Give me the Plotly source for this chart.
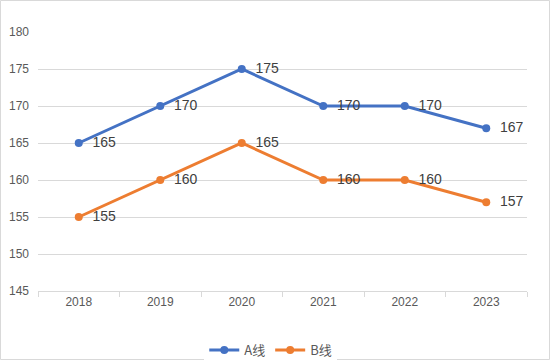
import plotly.graph_objects as go

years = ["2018", "2019", "2020", "2021", "2022", "2023"]
a_vals = [165, 170, 175, 170, 170, 167]
b_vals = [155, 160, 165, 160, 160, 157]
y_ticks = [145, 150, 155, 160, 165, 170, 175, 180]

W, H = 550, 360
ml, mr, mt, mb = 38, 23, 32, 69
pw, ph = W - ml - mr, H - mt - mb

fig = go.Figure()
for name, vals, color in [("A线", a_vals, "#4472C4"), ("B线", b_vals, "#ED7D31")]:
    fig.add_trace(go.Scatter(
        x=years, y=vals, name=name, mode="lines+markers+text",
        line=dict(color=color, width=3),
        marker=dict(color=color, size=8),
        text=["  " + str(v) for v in vals], textposition="middle right",
        textfont=dict(family="Liberation Sans, Arial", size=14, color="#404040"),
        cliponaxis=False,
    ))

fig.update_layout(
    width=W, height=H,
    margin=dict(l=ml, r=mr, t=mt, b=mb, autoexpand=False),
    paper_bgcolor="white", plot_bgcolor="white",
    showlegend=True,
    legend=dict(orientation="h", x=0.476, xanchor="center", y=-0.17, yanchor="top",
                font=dict(family="Noto Sans CJK SC", size=13, color="#595959"),
                tracegroupgap=0),
    xaxis=dict(type="category", range=[-0.5, len(years) - 0.5], showgrid=False,
               showline=True, linecolor="#d9d9d9",
               linewidth=1, ticks="outside", tickson="boundaries", ticklen=5,
               tickcolor="#d9d9d9", tickfont=dict(family="Liberation Sans, Arial", size=12, color="#595959"),
               zeroline=False, fixedrange=True, automargin=False),
    yaxis=dict(range=[145, 180], tickvals=y_ticks, showgrid=True, gridcolor="#d9d9d9",
               gridwidth=1, zeroline=False, showline=False, ticks="",
               tickfont=dict(family="Liberation Sans, Arial", size=12, color="#595959"),
               ticklabelstandoff=8, automargin=False),
    shapes=[dict(type="rect", xref="paper", yref="paper",
                 x0=(0.5 - ml) / pw, x1=(W - 0.5 - ml) / pw,
                 y0=-(mb - 0.5) / ph, y1=(ph + mt - 0.5) / ph,
                 line=dict(color="#d9d9d9", width=1), fillcolor="rgba(0,0,0,0)", layer="below")],
)

fig.write_html(
    "out.html",
    config={"responsive": False, "displayModeBar": False},
    post_script="document.body.style.margin='0';document.body.style.overflow='hidden';",
)
